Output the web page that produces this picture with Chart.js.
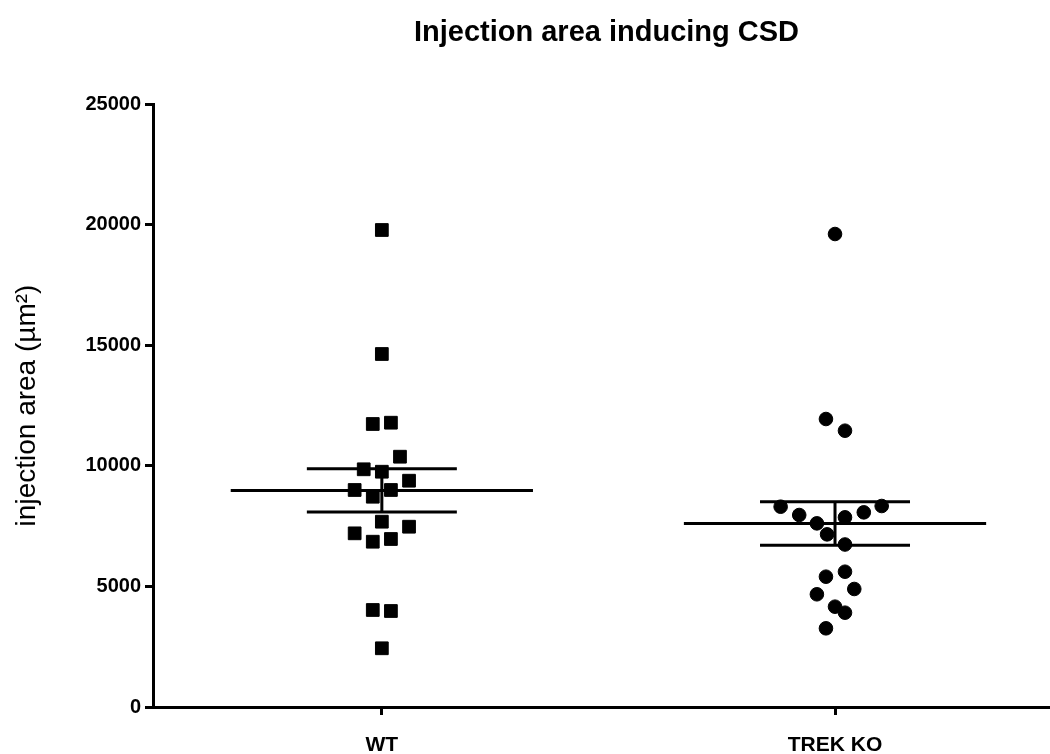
<!DOCTYPE html>
<html>
<head>
<meta charset="utf-8">
<script src="https://cdn.jsdelivr.net/npm/chart.js@4.4.0/dist/chart.umd.min.js"></script>
<style>
  html, body { margin: 0; padding: 0; background: #fff; }
  #wrap { width: 1050px; height: 754px; }
</style>
</head>
<body>
<div id="wrap"><canvas id="chart" width="1050" height="754"></canvas></div>
<script>
// groups and where they sit on the x axis
const groups = ['WT', 'TREK KO'];
const groupPos = [1, 3];

// injection area per animal (µm²)
const wtValues = [19776, 14635, 11733, 11787, 10377, 9855, 9755, 9382, 8997, 8997,
                  8718, 7683, 7475, 7200, 6853, 6965, 4022, 3980, 2434];
// horizontal scatter of each point (in group units)
const wtOffsets = [0, 0, -0.04, 0.04, 0.08, -0.08, 0, 0.12, -0.12, 0.04,
                   -0.04, 0, 0.12, -0.12, -0.04, 0.04, -0.04, 0.04, 0];

const koValues = [19610, 11940, 11455, 8304, 7960, 7614, 7158, 7863, 8070, 8333,
                  6737, 5402, 5609, 4673, 4893, 4159, 3910, 3262];
const koOffsets = [0, -0.04, 0.044, -0.24, -0.158, -0.08, -0.035, 0.044, 0.127, 0.206,
                   0.044, -0.04, 0.044, -0.08, 0.085, 0, 0.044, -0.04];

const yTicks = [0, 5000, 10000, 15000, 20000, 25000];

const chartTitle = 'Injection area inducing CSD';

const meanHalf = 0.667;
const semHalf = 0.331;

function mean(arr) {
  return arr.reduce((a, b) => a + b, 0) / arr.length;
}
function sem(arr) {
  const m = mean(arr);
  const v = arr.reduce((a, b) => a + (b - m) * (b - m), 0) / (arr.length - 1);
  return Math.sqrt(v) / Math.sqrt(arr.length);
}

function pointsFor(values, offsets, pos) {
  return values.map((v, i) => ({ x: pos + offsets[i], y: v }));
}

function meanLine(values, pos) {
  const m = mean(values);
  return [{ x: pos - meanHalf, y: m }, { x: pos + meanHalf, y: m }];
}

function semBars(values, pos) {
  const m = mean(values), s = sem(values);
  return [
    { x: pos - semHalf, y: m + s }, { x: pos + semHalf, y: m + s }, { x: pos, y: null },
    { x: pos - semHalf, y: m - s }, { x: pos + semHalf, y: m - s }, { x: pos, y: null },
    { x: pos, y: m + s }, { x: pos, y: m - s }
  ];
}

const lineStyle = {
  type: 'line',
  borderColor: '#000',
  borderWidth: 3,
  pointRadius: 0,
  spanGaps: false,
  fill: false
};

const FONT = "'Liberation Sans', Arial, sans-serif";

// title centred over the plot area rather than the whole canvas
const areaTitle = {
  id: 'areaTitle',
  afterDraw(chart) {
    const { ctx, chartArea } = chart;
    ctx.save();
    ctx.fillStyle = '#000';
    ctx.font = 'bold 29px ' + FONT;
    ctx.textAlign = 'center';
    ctx.textBaseline = 'middle';
    ctx.fillText(chartTitle, (chartArea.left + chartArea.right) / 2 + 6, 33);
    ctx.restore();
  }
};

new Chart(document.getElementById('chart'), {
  type: 'scatter',
  data: {
    datasets: [
      {
        label: groups[0],
        data: pointsFor(wtValues, wtOffsets, groupPos[0]),
        pointStyle: 'rect',
        pointRadius: 9,
        borderWidth: 1,
        backgroundColor: '#000',
        borderColor: '#000'
      },
      {
        label: groups[1],
        data: pointsFor(koValues, koOffsets, groupPos[1]),
        pointStyle: 'circle',
        pointRadius: 6.8,
        borderWidth: 1,
        backgroundColor: '#000',
        borderColor: '#000'
      },
      Object.assign({ label: 'WT mean', data: meanLine(wtValues, groupPos[0]) }, lineStyle),
      Object.assign({ label: 'WT sem', data: semBars(wtValues, groupPos[0]) }, lineStyle),
      Object.assign({ label: 'KO mean', data: meanLine(koValues, groupPos[1]) }, lineStyle),
      Object.assign({ label: 'KO sem', data: semBars(koValues, groupPos[1]) }, lineStyle)
    ]
  },
  plugins: [areaTitle],
  options: {
    responsive: false,
    animation: false,
    layout: { autoPadding: false, padding: { left: 0, right: 2, top: 104, bottom: 0 } },
    plugins: {
      legend: { display: false },
      tooltip: { enabled: false },
      title: { display: false }
    },
    scales: {
      x: {
        type: 'linear',
        min: -0.01,
        max: 3.94,
        afterBuildTicks: (scale) => {
          scale.ticks = groupPos.map(v => ({ value: v }));
        },
        afterFit: (scale) => {
          scale.height = 47;
          scale.paddingLeft = 0;
          scale.paddingRight = 0;
        },
        border: { display: true, color: '#000', width: 3 },
        grid: { drawOnChartArea: false, drawTicks: true, tickLength: 8, tickColor: '#000', lineWidth: 3 },
        ticks: {
          autoSkip: false,
          maxRotation: 0,
          padding: 18,
          color: '#000',
          font: { family: FONT, size: 21, weight: 'bold' },
          callback: (v) => groups[groupPos.indexOf(v)]
        }
      },
      y: {
        min: 0,
        max: 25000,
        afterBuildTicks: (scale) => {
          scale.ticks = yTicks.map(v => ({ value: v }));
        },
        afterFit: (scale) => { scale.width = 153; },
        border: { display: true, color: '#000', width: 3 },
        grid: { drawOnChartArea: false, drawTicks: true, tickLength: 8, tickColor: '#000', lineWidth: 3 },
        ticks: {
          padding: 4,
          color: '#000',
          font: { family: FONT, size: 20, weight: 'bold' },
          callback: (v) => String(v)
        },
        title: {
          display: true,
          text: 'injection area (µm²)',
          color: '#000',
          font: { family: FONT, size: 28 },
          padding: { top: 10, bottom: 0 }
        }
      }
    }
  }
});
</script>
</body>
</html>
